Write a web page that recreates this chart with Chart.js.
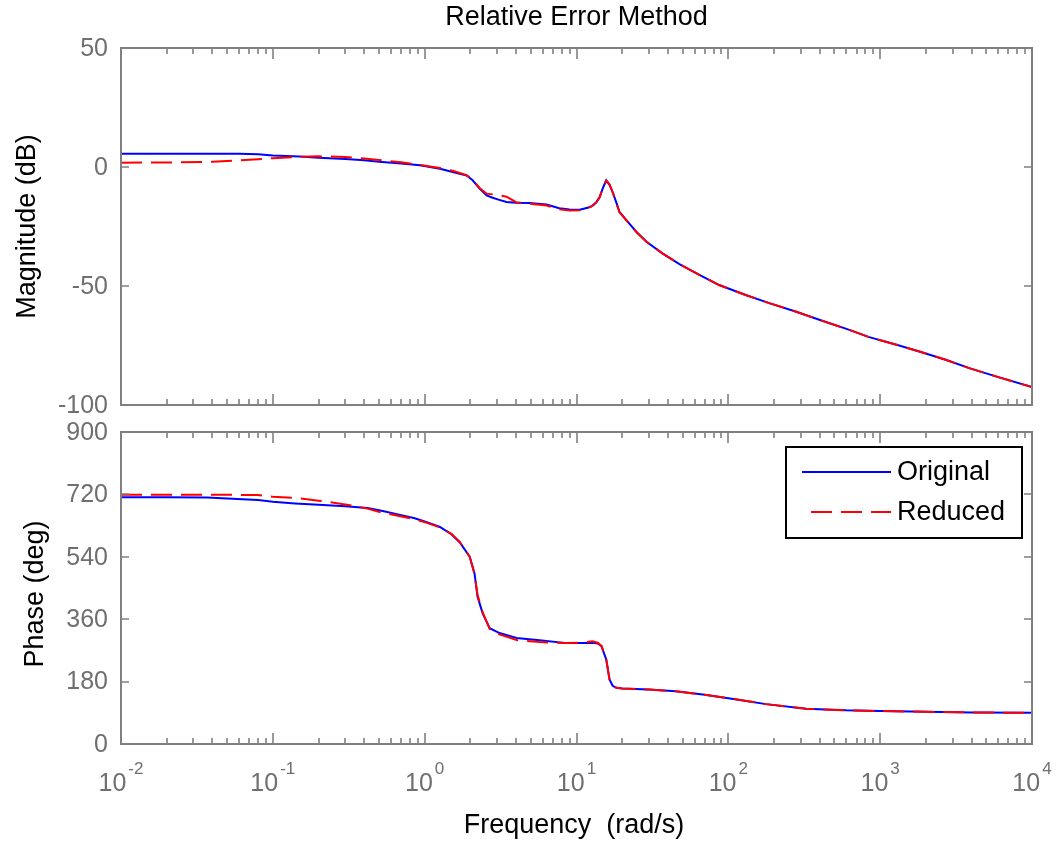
<!DOCTYPE html>
<html><head><meta charset="utf-8">
<script src="https://cdn.jsdelivr.net/npm/chart.js@4.4.0/dist/chart.umd.min.js"></script>
<style>
html,body{margin:0;padding:0;background:#fff;width:1058px;height:844px;overflow:hidden}
canvas{position:absolute;left:0}
#top{top:0}
#bot{top:418px}
</style></head><body>
<canvas id="top" width="1058" height="418"></canvas>
<canvas id="bot" width="1058" height="426"></canvas>
<script>
// ---- data ----
const titleText = 'Relative Error Method';
const xTitle = 'Frequency  (rad/s)';
const magTitle = 'Magnitude (dB)';
const phaseTitle = 'Phase (deg)';
const seriesNames = ['Original', 'Reduced'];

const freqMag = [0.01, 0.02, 0.04, 0.06, 0.08, 0.1, 0.15, 0.2, 0.3, 0.4, 0.5, 0.7, 0.93, 1.26, 1.53, 1.89, 2.07, 2.3, 2.56, 2.8, 3.1, 3.46, 4, 4.9, 6.35, 7.7, 9, 10.5, 12, 12.7, 13.5, 14.2, 15, 15.7, 16.5, 17.3, 18.3, 19.2, 21.3, 25, 28.9, 36.8, 47.6, 64, 87, 130, 186, 280, 397, 600, 847, 1300, 1810, 2700, 3860, 6000, 10000];
const magOriginal = [5.6, 5.6, 5.6, 5.6, 5.4, 4.8, 4.4, 3.9, 3.4, 2.8, 2.2, 1.5, 0.7, -0.7, -2.1, -3.6, -5.6, -9.1, -11.9, -12.9, -13.8, -14.7, -15.0, -15.1, -15.8, -17.3, -17.9, -18.0, -17.0, -16.3, -14.8, -12.6, -8.5, -5.6, -7.5, -10.5, -15.0, -18.9, -22.3, -27.5, -31.4, -36.3, -40.8, -45.2, -49.6, -53.8, -57.2, -60.8, -64.2, -68.0, -71.5, -74.8, -77.5, -81.0, -84.5, -88.3, -92.5];
const magReduced = [1.8, 1.9, 2.2, 2.8, 3.3, 3.7, 4.3, 4.5, 4.2, 3.6, 2.9, 2.0, 0.9, -0.4, -1.6, -3.4, -5.4, -8.8, -11.2, -11.5, -11.9, -12.5, -14.8, -15.4, -16.2, -17.8, -18.3, -18.2, -17.2, -16.4, -14.9, -12.8, -8.3, -5.8, -7.3, -10.6, -15.1, -19.0, -22.4, -27.5, -31.4, -36.3, -40.8, -45.2, -49.6, -53.8, -57.2, -60.8, -64.2, -68.0, -71.5, -74.8, -77.5, -81.0, -84.5, -88.3, -92.5];

const freqPhase = [0.01, 0.02, 0.037, 0.05, 0.08, 0.1, 0.14, 0.2, 0.3, 0.42, 0.52, 0.69, 0.86, 1.0, 1.26, 1.5, 1.7, 1.98, 2.13, 2.23, 2.41, 2.68, 3.11, 4.03, 5.71, 8.6, 11, 12.7, 13.8, 14.6, 15.7, 16.5, 17.3, 18.3, 20, 30, 45, 70, 108, 177, 325, 595, 1000, 2000, 4000, 10000];
const phaseOriginal = [712, 712, 711, 708, 704, 699, 694, 690, 686, 681, 673, 661, 651, 642, 626, 605, 582, 540, 492, 425, 377, 334, 320, 306, 299, 291, 291, 292, 290, 282, 244, 186, 168, 162, 160, 157, 152, 142, 130, 115, 102, 97, 95, 93, 91, 90];
const phaseReduced = [719, 719, 719, 719, 718, 713, 710, 702, 691, 679, 668, 657, 648, 640, 625, 606, 583, 540, 490, 430, 380, 332, 316, 300, 294, 291, 293, 296, 292, 283, 244, 186, 168, 162, 160, 157, 152, 142, 130, 115, 102, 97, 95, 93, 91, 90];

const magTicks = [-100, -50, 0, 50];
const phaseTicks = [0, 180, 360, 540, 720, 900];
const decadeExponents = [-2, -1, 0, 1, 2, 3, 4];
const xMin = 0.01, xMax = 10000;

// ---- styling ----
const AXIS = '#808080';
const LABEL = '#6f6f6f';
const FONT = '"Liberation Sans", Arial, sans-serif';
const BLUE = '#0000ff', RED = '#ff0000';
const DASH = [21, 9];

function pts(xs, ys) { return xs.map((x, i) => ({ x: x, y: ys[i] })); }

const framePlugin = {
  id: 'bodeFrame',
  afterDraw(chart, args, o) {
    const ctx = chart.ctx, a = chart.chartArea;
    const x = chart.scales.x, y = chart.scales.y;
    ctx.save();
    // box
    ctx.strokeStyle = AXIS;
    ctx.lineWidth = 2;
    ctx.strokeRect(a.left, a.top, a.right - a.left, a.bottom - a.top);
    // x ticks (log decades, minor 2..9)
    ctx.lineWidth = 1.6;
    ctx.beginPath();
    for (let e = decadeExponents[0]; e <= decadeExponents[decadeExponents.length - 1]; e++) {
      for (let m = 1; m <= 9; m++) {
        const v = m * Math.pow(10, e);
        if (v > xMax * 1.0001) break;
        const px = Math.round(x.getPixelForValue(v));
        const len = m === 1 ? 11 : 6;
        ctx.moveTo(px, a.bottom); ctx.lineTo(px, a.bottom - len);
        ctx.moveTo(px, a.top); ctx.lineTo(px, a.top + len);
      }
    }
    // y ticks
    o.yTicks.forEach(v => {
      const py = Math.round(y.getPixelForValue(v));
      ctx.moveTo(a.left, py); ctx.lineTo(a.left + 8, py);
      ctx.moveTo(a.right, py); ctx.lineTo(a.right - 8, py);
    });
    ctx.stroke();
    // y labels
    ctx.fillStyle = LABEL;
    ctx.font = '25px ' + FONT;
    ctx.textAlign = 'right';
    ctx.textBaseline = 'middle';
    o.yTicks.forEach(v => {
      const py = y.getPixelForValue(v);
      ctx.fillText(String(v).replace('-', '-'), a.left - 13, py + 1);
    });
    // x labels with superscripts
    if (o.xLabels) {
      ctx.textAlign = 'left';
      ctx.textBaseline = 'alphabetic';
      decadeExponents.forEach(e => {
        const px = x.getPixelForValue(Math.pow(10, e));
        ctx.font = '25px ' + FONT;
        const w1 = ctx.measureText('10').width;
        ctx.font = '17px ' + FONT;
        const es = String(e);
        const w2 = ctx.measureText(es).width;
        const start = px - (w1 + 2 + w2) / 2;
        const base = a.bottom + 47;
        ctx.font = '25px ' + FONT;
        ctx.fillText('10', start, base);
        ctx.font = '17px ' + FONT;
        ctx.fillText(es, start + w1 + 2, base - 17);
      });
    }
    // titles
    ctx.fillStyle = '#000';
    ctx.textAlign = 'center';
    ctx.textBaseline = 'middle';
    if (o.title) {
      ctx.font = '27px ' + FONT;
      ctx.fillText(o.title, (a.left + a.right) / 2, 18);
    }
    if (o.xTitle) {
      ctx.font = '27px ' + FONT;
      ctx.fillText(o.xTitle, 574, a.bottom + 82);
    }
    ctx.save();
    ctx.font = '27px ' + FONT;
    ctx.translate(o.yTitleX, (a.top + a.bottom) / 2 + (o.yTitleDy || 0));
    ctx.rotate(-Math.PI / 2);
    ctx.fillText(o.yTitle, 0, 0);
    ctx.restore();
    // legend
    if (o.legend) {
      const bw = 236, bh = 91;
      const bx = a.right - 10 - bw, by = a.top + 15;
      ctx.fillStyle = '#fff';
      ctx.fillRect(bx, by, bw, bh);
      ctx.strokeStyle = '#000';
      ctx.lineWidth = 2;
      ctx.strokeRect(bx, by, bw, bh);
      const rows = [by + 25, by + 65];
      chart.data.datasets.forEach((ds, i) => {
        ctx.strokeStyle = ds.borderColor;
        ctx.lineWidth = 2;
        ctx.setLineDash(ds.borderDash || []);
        ctx.beginPath();
        const x0 = (ds.borderDash && ds.borderDash.length) ? bx + 25 : bx + 16;
        ctx.moveTo(x0, rows[i]); ctx.lineTo(bx + 105, rows[i]);
        ctx.stroke();
        ctx.setLineDash([]);
        ctx.fillStyle = '#000';
        ctx.font = '27px ' + FONT;
        ctx.textAlign = 'left';
        ctx.textBaseline = 'middle';
        ctx.fillText(ds.label, bx + 111, rows[i] + 1);
      });
    }
    ctx.restore();
  }
};

function makeChart(id, xs, orig, red, yMin, yMax, pad, frameOpts) {
  return new Chart(document.getElementById(id), {
    type: 'line',
    data: {
      datasets: [
        { label: seriesNames[0], data: pts(xs, orig), borderColor: BLUE, borderWidth: 2, pointRadius: 0, fill: false, tension: 0, order: 1 },
        { label: seriesNames[1], data: pts(xs, red), borderColor: RED, borderWidth: 2, borderDash: DASH, pointRadius: 0, fill: false, tension: 0, order: 0 }
      ]
    },
    options: {
      responsive: false,
      animation: false,
      devicePixelRatio: 1,
      layout: { padding: pad },
      scales: {
        x: { type: 'logarithmic', min: xMin, max: xMax, display: false },
        y: { type: 'linear', min: yMin, max: yMax, display: false }
      },
      plugins: { legend: { display: false }, tooltip: { enabled: false }, bodeFrame: frameOpts }
    },
    plugins: [framePlugin]
  });
}

makeChart('top', freqMag, magOriginal, magReduced, -100, 50,
  { left: 121, right: 26, top: 48, bottom: 13 },
  { yTicks: magTicks, xLabels: false, title: titleText, yTitle: magTitle, yTitleX: 28 });

makeChart('bot', freqPhase, phaseOriginal, phaseReduced, 0, 900,
  { left: 121, right: 26, top: 14, bottom: 100 },
  { yTicks: phaseTicks, xLabels: true, xTitle: xTitle, yTitle: phaseTitle, yTitleX: 36, yTitleDy: 6, legend: true });
</script>
</body></html>
